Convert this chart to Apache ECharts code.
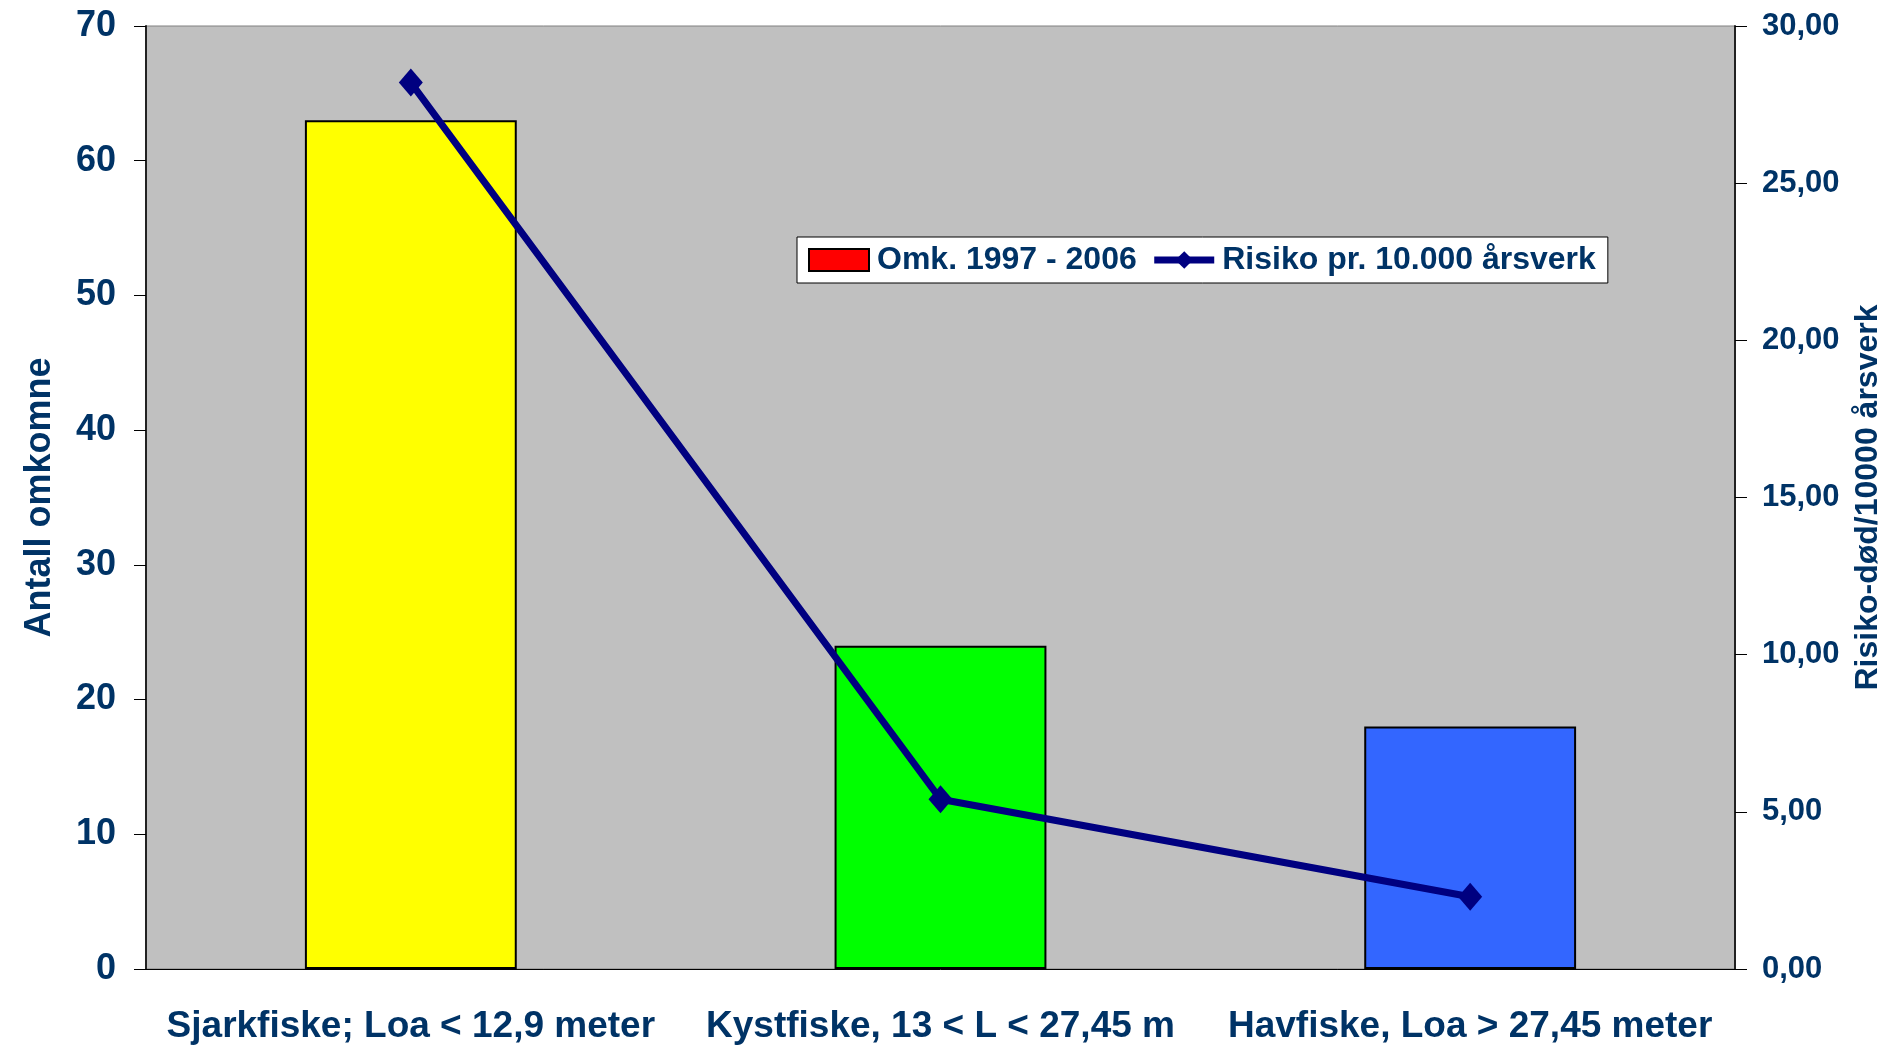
<!DOCTYPE html>
<html>
<head>
<meta charset="utf-8">
<script src="https://cdn.jsdelivr.net/npm/echarts@6/dist/echarts.min.js"></script>
<style>
  html, body { margin: 0; padding: 0; background: #fff; }
  #chart { width: 1888px; height: 1045px; }
</style>
</head>
<body>
<div id="chart"></div>
<script>
// kategorier og verdier lest av figuren
var categories = ['Sjarkfiske; Loa < 12,9 meter', 'Kystfiske, 13 < L < 27,45 m', 'Havfiske, Loa > 27,45 meter'];
var omkomne = [63, 24, 18];
var risiko = [28.2, 5.4, 2.3];
var barColors = ['#FFFF00', '#00FF00', '#3366FF'];

var navy = '#003366';
var barData = [];
for (var i = 0; i < omkomne.length; i++) {
    barData.push({ value: omkomne[i], itemStyle: { color: barColors[i] } });
}

var option = {
    animation: false,
    textStyle: { fontFamily: 'Liberation Sans, Arial, sans-serif', fontWeight: 'bold', color: navy },
    grid: {
        left: 146, right: 153, top: 26, bottom: 76,
        containLabel: false, outerBoundsMode: 'none',
        show: true, backgroundColor: '#C0C0C0', borderColor: '#808080', borderWidth: 1
    },
    legend: {
        left: 797, top: 237,
        backgroundColor: '#fff', borderColor: '#000', borderWidth: 1,
        padding: [7, 12, 7, 11],
        itemWidth: 60, itemHeight: 22, itemGap: 14,
        textStyle: { fontSize: 32, fontWeight: 'bold', color: navy, padding: [0, 0, 0, 3] },
        data: [
            { name: 'Omk. 1997 - 2006', icon: 'rect', itemStyle: { color: '#FF0000', borderColor: '#000', borderWidth: 2 } },
            { name: 'Risiko pr. 10.000 årsverk', lineStyle: { width: 7, color: '#000080' } }
        ]
    },
    xAxis: {
        type: 'category',
        data: categories,
        axisLine: { lineStyle: { color: '#000', width: 1 } },
        axisTick: { length: 12, lineStyle: { color: '#000' } },
        axisLabel: { interval: 0, fontSize: 37, fontWeight: 'bold', color: navy, margin: 39 }
    },
    yAxis: [{
        type: 'value',
        min: 0, max: 70, interval: 10,
        name: 'Antall omkomne',
        nameLocation: 'middle', nameRotate: 90, nameGap: 88,
        nameTextStyle: { fontSize: 36, fontWeight: 'bold', color: navy },
        axisLine: { show: true, lineStyle: { color: '#222', width: 2 } },
        axisTick: { show: true, length: 12, lineStyle: { color: '#000' } },
        axisLabel: { fontSize: 36, fontWeight: 'bold', color: navy, margin: 30 },
        splitLine: { show: false }
    }, {
        type: 'value',
        position: 'right',
        min: 0, max: 30, interval: 5,
        name: 'Risiko-død/10000 årsverk',
        nameLocation: 'middle', nameRotate: 90, nameGap: 117,
        nameTextStyle: { fontSize: 32, fontWeight: 'bold', color: navy },
        axisLine: { show: true, lineStyle: { color: '#222', width: 2 } },
        axisTick: { show: true, length: 12, lineStyle: { color: '#000' } },
        axisLabel: {
            fontSize: 31, fontWeight: 'bold', color: navy, margin: 27,
            formatter: function (v) { return v.toFixed(2).replace('.', ','); }
        },
        splitLine: { show: false }
    }],
    series: [{
        name: 'Omk. 1997 - 2006',
        type: 'bar',
        yAxisIndex: 0,
        barWidth: '40%',
        itemStyle: { color: '#FF0000', borderColor: '#000', borderWidth: 2 },
        data: barData
    }, {
        name: 'Risiko pr. 10.000 årsverk',
        type: 'line',
        yAxisIndex: 1,
        symbol: 'diamond',
        symbolSize: [24, 28],
        lineStyle: { color: '#000080', width: 7 },
        itemStyle: { color: '#000080' },
        data: risiko
    }]
};

var chart = echarts.init(document.getElementById('chart'));
chart.setOption(option);
</script>
</body>
</html>
